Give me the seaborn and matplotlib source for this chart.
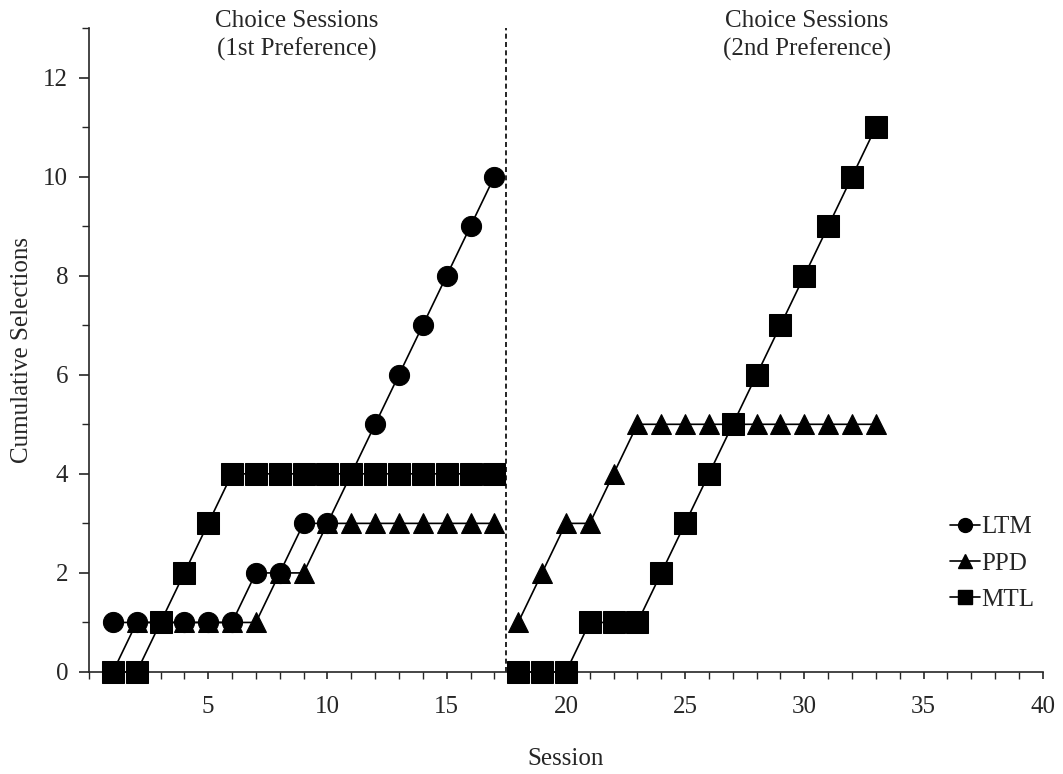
import numpy as np
import pandas as pd
import matplotlib
matplotlib.use("Agg")
import matplotlib.pyplot as plt
import seaborn as sns
from matplotlib.lines import Line2D

# phase 1: sessions 1-17, phase 2: sessions 18-33
sessions_1 = list(range(1, 18))
sessions_2 = list(range(18, 34))

ltm_1 = [1, 1, 1, 1, 1, 1, 2, 2, 3, 3, 4, 5, 6, 7, 8, 9, 10]
ppd_1 = [0, 1, 1, 1, 1, 1, 1, 2, 2, 3, 3, 3, 3, 3, 3, 3, 3]
mtl_1 = [0, 0, 1, 2, 3, 4, 4, 4, 4, 4, 4, 4, 4, 4, 4, 4, 4]

ppd_2 = [1, 2, 3, 3, 4, 5, 5, 5, 5, 5, 5, 5, 5, 5, 5, 5]
mtl_2 = [0, 0, 0, 1, 1, 1, 2, 3, 4, 5, 6, 7, 8, 9, 10, 11]

sns.set_style("ticks")
plt.rcParams['font.family'] = ['Liberation Serif', 'DejaVu Serif']

fig = plt.figure(figsize=(10.63, 7.74), dpi=100)
ax = fig.add_axes([0.0837, 0.1318, 0.8973, 0.832])

# draw order: PPD under LTM under MTL
series = [
    ("PPD", "^", 14, [(sessions_1, ppd_1), (sessions_2, ppd_2)]),
    ("LTM", "o", 14.5, [(sessions_1, ltm_1)]),
    ("MTL", "s", 15.5, [(sessions_1, mtl_1), (sessions_2, mtl_2)]),
]
for name, mk, ms, parts in series:
    for xs, ys in parts:
        df = pd.DataFrame({"Session": xs, "Count": ys})
        sns.lineplot(data=df, x="Session", y="Count", ax=ax, color="black",
                     marker=mk, markersize=ms, markeredgecolor="black",
                     linewidth=1.2, clip_on=False, zorder=3)

ax.axvline(17.5, color="black", linestyle=(0, (3, 2)), linewidth=1.2, ymin=0, ymax=1)

ax.set_xlim(0, 40)
ax.set_ylim(0, 13)
ax.set_xticks(range(5, 41, 5))
ax.set_xticks(range(0, 41), minor=True)
ax.set_yticks(range(0, 13, 2))
ax.set_yticks(range(0, 14), minor=True)
ax.tick_params(axis="both", which="major", labelsize=18, length=7, width=1.2, direction="out")
ax.tick_params(axis="both", which="minor", length=5, width=1.0, direction="out")
ax.tick_params(axis="x", which="major", length=5, pad=12)
ax.tick_params(axis="y", which="major", pad=8)
sns.despine(ax=ax)
for s in ["left", "bottom"]:
    ax.spines[s].set_linewidth(1.2)

ax.set_xlabel("Session", fontsize=18, labelpad=22)
ax.set_ylabel("Cumulative Selections", fontsize=18, labelpad=7)

ax.text(8.7, 12.85, "Choice Sessions\n(1st Preference)", ha="center", va="center",
        fontsize=18, linespacing=1.3)
ax.text(30.1, 12.85, "Choice Sessions\n(2nd Preference)", ha="center", va="center",
        fontsize=18, linespacing=1.3)

handles = [
    Line2D([], [], color="black", marker="o", markersize=10, linewidth=1.2),
    Line2D([], [], color="black", marker="^", markersize=10, linewidth=1.2),
    Line2D([], [], color="black", marker="s", markersize=10, linewidth=1.2),
]
ax.legend(handles, ["LTM", "PPD", "MTL"], loc="lower right", bbox_to_anchor=(1.015, 0.06),
          frameon=False, fontsize=18, handlelength=1.2, handletextpad=0.05,
          labelspacing=0.55)

fig.savefig("out.png", dpi=100)
